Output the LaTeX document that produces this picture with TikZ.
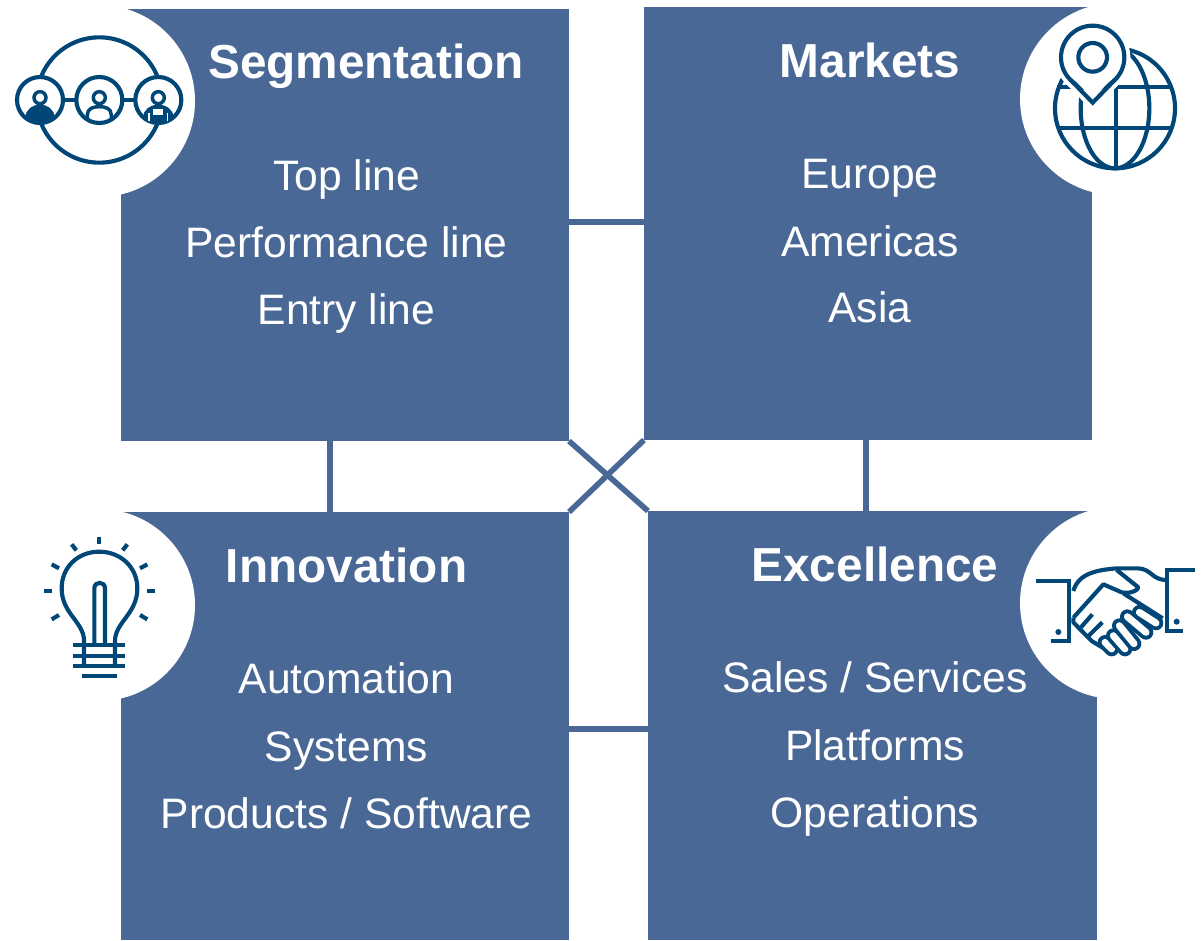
\documentclass[tikz,border=0pt]{standalone}
\usepackage{fontspec}
\setmainfont{Liberation Sans}
\usetikzlibrary{calc}
\definecolor{panel}{HTML}{4A6896}
\definecolor{ink}{HTML}{004676}
\tikzset{
  panelbox/.style={fill=panel,inner sep=0pt,outer sep=0pt,minimum width=#1},
  link/.style={draw=panel,line width=4.2pt},
  ttl/.style={text=white,anchor=base,inner sep=0pt,font=\fontsize{35.8}{40}\selectfont\bfseries},
  itm/.style={text=white,anchor=base,inner sep=0pt,font=\fontsize{31.95}{38}\selectfont},
  ico/.style={draw=ink,line width=3.1pt},
  icothin/.style={draw=ink,line width=2.6pt},
  zoomed/.style={x=0.25pt,y=-0.25pt},
  disc/.style={fill=white}
}
\begin{document}
\begin{tikzpicture}[x=0.75pt,y=0.75pt]
\useasboundingbox (0,0) rectangle (1202,-940);
\fill[white] (0,0) rectangle (1202,-940);
% panels
\node[panelbox=336pt,minimum height=324pt] (seg) at (345,-225) {};
\node[panelbox=336pt,minimum height=324.75pt] (mkt) at (868,-223.5) {};
\node[panelbox=336pt,minimum height=321pt] (inn) at (345,-726) {};
\node[panelbox=336.75pt,minimum height=321.75pt] (exc) at (872.5,-725.5) {};
% connectors
\draw[link] ([yshift=2.25pt]seg.east) -- ([yshift=1.1pt]mkt.west);
\draw[link] ([xshift=-11.25pt]seg.south) -- ([xshift=-11.25pt]inn.north);
\draw[link] ([xshift=-1.5pt]mkt.south) -- ([xshift=-4.9pt]exc.north);
\draw[link] ([yshift=-2.25pt]inn.east) -- ([yshift=-2.6pt]exc.west);
\draw[link] (seg.south east) -- (exc.north west);
\draw[link] (mkt.south west) -- (inn.north east);
% discs
\fill[disc] (99,-101) circle (96);
\fill[disc] (1116,-99) circle (96);
\fill[disc] (99,-605) circle (96);
\fill[disc] (1116,-603) circle (96);
% people icon
\begin{scope}[zoomed]
\draw[ico] (298,300) circle (188);
\draw[ico] (190,300) -- (410,300);
\foreach \c in {120,298,475}{\draw[ico,fill=white] (\c,300) circle (69);}
\begin{scope}
\clip (120,300) circle (69);
\fill[ink] (120,352) ellipse (44 and 38);
\end{scope}
\draw[icothin,fill=white] (120,293) circle (18);
\begin{scope}
\clip (298,300) circle (69);
\draw[icothin] (262,372) -- (262,345) .. controls (262,325) and (280,320) .. (298,320) .. controls (316,320) and (334,325) .. (334,345) -- (334,372);
\end{scope}
\draw[icothin,fill=white] (298,293) circle (18);
\begin{scope}
\clip (475,300) circle (69);
\fill[ink] (475,352) ellipse (46 and 38);
\fill[white] (460,328) rectangle (490,344);
\draw[white,line width=0.8pt] (447,338) -- (447,372) (503,338) -- (503,372);
\end{scope}
\draw[icothin,fill=white] (475,293) circle (18);
\end{scope}
% globe icon
\begin{scope}[shift={(1010,0)},zoomed]
\draw[ico] (315,325) circle (180);
\draw[ico] (315,325) ellipse (103 and 180);
\draw[ico] (318,262) -- (318,505);
\draw[ico] (140,262) -- (486,262);
\draw[ico] (143,385) -- (487,385);
\draw[white,line width=9pt,line join=round] (180,238) -- (248,308) -- (316,238);
\draw[white,line width=9pt] (248,172) circle (95);
\fill[white] (248,172) circle (95);
\draw[ico] (248,172) circle (95);
\fill[white] (186,232) -- (248,296) -- (310,232) -- (248,215) -- cycle;
\draw[ico,line join=miter] (180,238) -- (248,308) -- (316,238);
\draw[ico] (248,172) circle (43);
\end{scope}
% bulb icon
\begin{scope}[shift={(0,-505)},zoomed]
\draw[ico] (252,484) -- (252,405) .. controls (250,350) and (185,325) .. (185,250) .. controls (185,185) and (235,140) .. (298,140) .. controls (360,140) and (412,185) .. (412,250) .. controls (412,325) and (348,350) .. (345,405) -- (345,484);
\draw[ico] (283,420) -- (283,250) .. controls (283,228) and (315,228) .. (315,250) -- (315,420);
\draw[ico] (220,420) -- (375,420);
\draw[ico] (220,452) -- (375,452);
\draw[ico] (220,484) -- (375,484);
\draw[ico] (245,513) -- (352,513);
\draw[ico] (298,95) -- (298,118);
\draw[ico] (215,118) -- (229,136);
\draw[ico] (382,118) -- (368,136);
\draw[ico] (155,178) -- (177,190);
\draw[ico] (442,178) -- (420,190);
\draw[ico] (133,259) -- (157,259);
\draw[ico] (440,259) -- (464,259);
\draw[ico] (155,343) -- (177,330);
\draw[ico] (442,343) -- (420,330);
\end{scope}
% handshake icon
\begin{scope}[shift={(1010,-505)},zoomed]
\draw[ico,line join=miter] (78,228) -- (178,228) -- (178,408) -- (122,408);
\draw[ico,line join=miter] (555,195) -- (470,195) -- (470,378) -- (520,378);
\fill[ink] (145,381) circle (9);
\fill[ink] (500,350) circle (9);
\draw[ico] (190,258) .. controls (205,205) and (260,195) .. (320,190) -- (385,190) .. controls (425,192) and (425,225) .. (470,225);
\draw[ico,line join=round] (190,338) -- (280,238) -- (335,262) .. controls (360,268) and (385,255) .. (385,247) -- (320,195);
\draw[ico] (340,265) -- (458,340);
\draw[ico,line join=round] (190,338) -- (190,352) -- (245,408) -- (285,432);
\draw[ico] (247,328) -- (212,368);
\draw[ico] (277,352) -- (232,396);
\foreach \a/\b/\d/\e in {285/412/305/432, 310/392/345/432, 328/362/372/416, 352/335/408/382, 388/322/438/354}{
  \draw[draw=ink,line width=11pt,line cap=round] (\a,\b) -- (\d,\e);
  \draw[draw=white,line width=5.2pt,line cap=round] (\a,\b) -- (\d,\e);
}
\end{scope}
% texts
\node[ttl] (t1) at (366,-78) {Segmentation};
\node[itm] (t1a) at (346.5,-190) {Top line};
\node[itm] (t1b) at (346.5,-257) {Performance line};
\node[itm] (t1c) at (346.5,-324) {Entry line};
\node[ttl] (t2) at (870,-77) {Markets};
\node[itm] (t2a) at (870,-188) {Europe};
\node[itm] (t2b) at (870,-256) {Americas};
\node[itm] (t2c) at (870,-322) {Asia};
\node[ttl] (t3) at (346.5,-582) {Innovation};
\node[itm] (t3a) at (346.5,-693) {Automation};
\node[itm] (t3b) at (346.5,-761) {Systems};
\node[itm] (t3c) at (346.5,-828) {Products / Software};
\node[ttl] (t4) at (875,-581) {Excellence};
\node[itm] (t4a) at (875,-692) {Sales / Services};
\node[itm] (t4b) at (875,-760) {Platforms};
\node[itm] (t4c) at (875,-827) {Operations};
\end{tikzpicture}
\end{document}
